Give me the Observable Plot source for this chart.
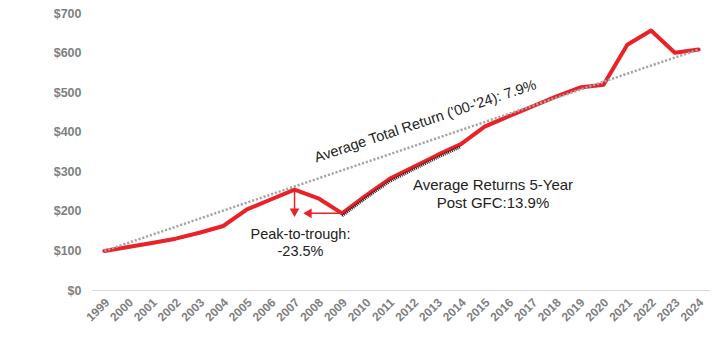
<!DOCTYPE html>
<html><head><meta charset="utf-8">
<script src="https://cdn.jsdelivr.net/npm/d3@7"></script>
<script src="https://cdn.jsdelivr.net/npm/@observablehq/plot@0.6"></script>
<style>body{margin:0;background:#fff;} #chart{width:724px;height:360px;}</style>
</head><body><div id="chart"></div>
<script>
const years = [1999,2000,2001,2002,2003,2004,2005,2006,2007,2008,2009,2010,2011,2012,2013,2014,2015,2016,2017,2018,2019,2020,2021,2022,2023,2024];
const values = [100,110,120,131,146,163,205,230,255,233,195,240,282,312,342,370,414,440,465,490,513,520,621,657,601,609];
const yTicks = [0,100,200,300,400,500,600,700];
const trendYears = [1999,2024];
const trendValues = [100,609];
const gfcRange = [2009,2014];
const peakYear = 2007, peakValue = 255, troughYear = 2009, troughValue = 195;
const trendLabel = "Average Total Return ('00-'24): 7.9%";
const gfcLabel = "Average Returns 5-Year\nPost GFC:13.9%";
const dropLabel = "Peak-to-trough:\n-23.5%";

const data = years.map((x,i)=>({x, y: values[i]}));
const trend = trendYears.map((x,i)=>({x, y: trendValues[i]}));
const gfc = data.filter(d => d.x >= gfcRange[0] && d.x <= gfcRange[1]);
const red = "#ea2127";

const plot = Plot.plot({
  width: 724, height: 360,
  marginLeft: 92, marginRight: 14, marginTop: 13, marginBottom: 70,
  style: {fontFamily: "'Liberation Sans', Arial, sans-serif", background: "#fff"},
  x: {type: "linear", domain: [1998.5, 2024.5]},
  y: {domain: [0, 700]},
  marks: [
    Plot.ruleY([0], {stroke: "#d9d9d9", strokeWidth: 1}),
    Plot.axisY({ticks: yTicks, tickSize: 0, tickPadding: 11, tickFormat: d => "$" + d, label: null, fill: "#7f7f7f", fontWeight: "bold", fontSize: 12.5}),
    Plot.axisX({ticks: years, tickSize: 0, tickPadding: 10, tickRotate: -45, tickFormat: d => String(d), label: null, fill: "#7f7f7f", fontWeight: "bold", fontSize: 12, dx: 3}),
    Plot.line(data, {x: "x", y: "y", stroke: red, strokeWidth: 4, strokeLinejoin: "round"}),
    Plot.line(gfc, {x: "x", y: "y", stroke: "#222", strokeWidth: 3, strokeDasharray: "1,1", strokeLinecap: "butt", dy: 2.5}),
    Plot.line(trend, {x: "x", y: "y", stroke: "#a6a6a6", strokeWidth: 2.5, strokeDasharray: "2.2,1.8", strokeLinecap: "butt"}),
    // peak-to-trough arrows
    Plot.link([{x1: peakYear, y1: peakValue, x2: peakYear, y2: troughValue + 10}], {x1: "x1", y1: "y1", x2: "x2", y2: "y2", stroke: red, strokeWidth: 1.5}),
    Plot.dot([{x: peakYear, y: troughValue + 5}], {x: "x", y: "y", symbol: "triangle", r: 3.6, fill: red, stroke: "none", rotate: 180}),
    Plot.link([{x1: troughYear, y1: troughValue, x2: peakYear + 0.62, y2: troughValue}], {x1: "x1", y1: "y1", x2: "x2", y2: "y2", stroke: red, strokeWidth: 1.5}),
    Plot.dot([{x: peakYear + 0.6, y: troughValue}], {x: "x", y: "y", symbol: "triangle", r: 3.6, fill: red, stroke: "none", rotate: -90}),
    // labels
    Plot.text([trendLabel], {x: 2012.5, y: 428, text: d => d, rotate: -18.5, fontSize: 14.5, fill: "#222"}),
    Plot.text([gfcLabel], {x: 2015.35, y: 246, text: d => d, fontSize: 15, fill: "#222", lineHeight: 1.2}),
    Plot.text([dropLabel], {x: 2007.25, y: 122, text: d => d, fontSize: 14.5, fill: "#222", lineHeight: 1.2})
  ]
});
document.getElementById("chart").appendChild(plot);
</script>
</body></html>
